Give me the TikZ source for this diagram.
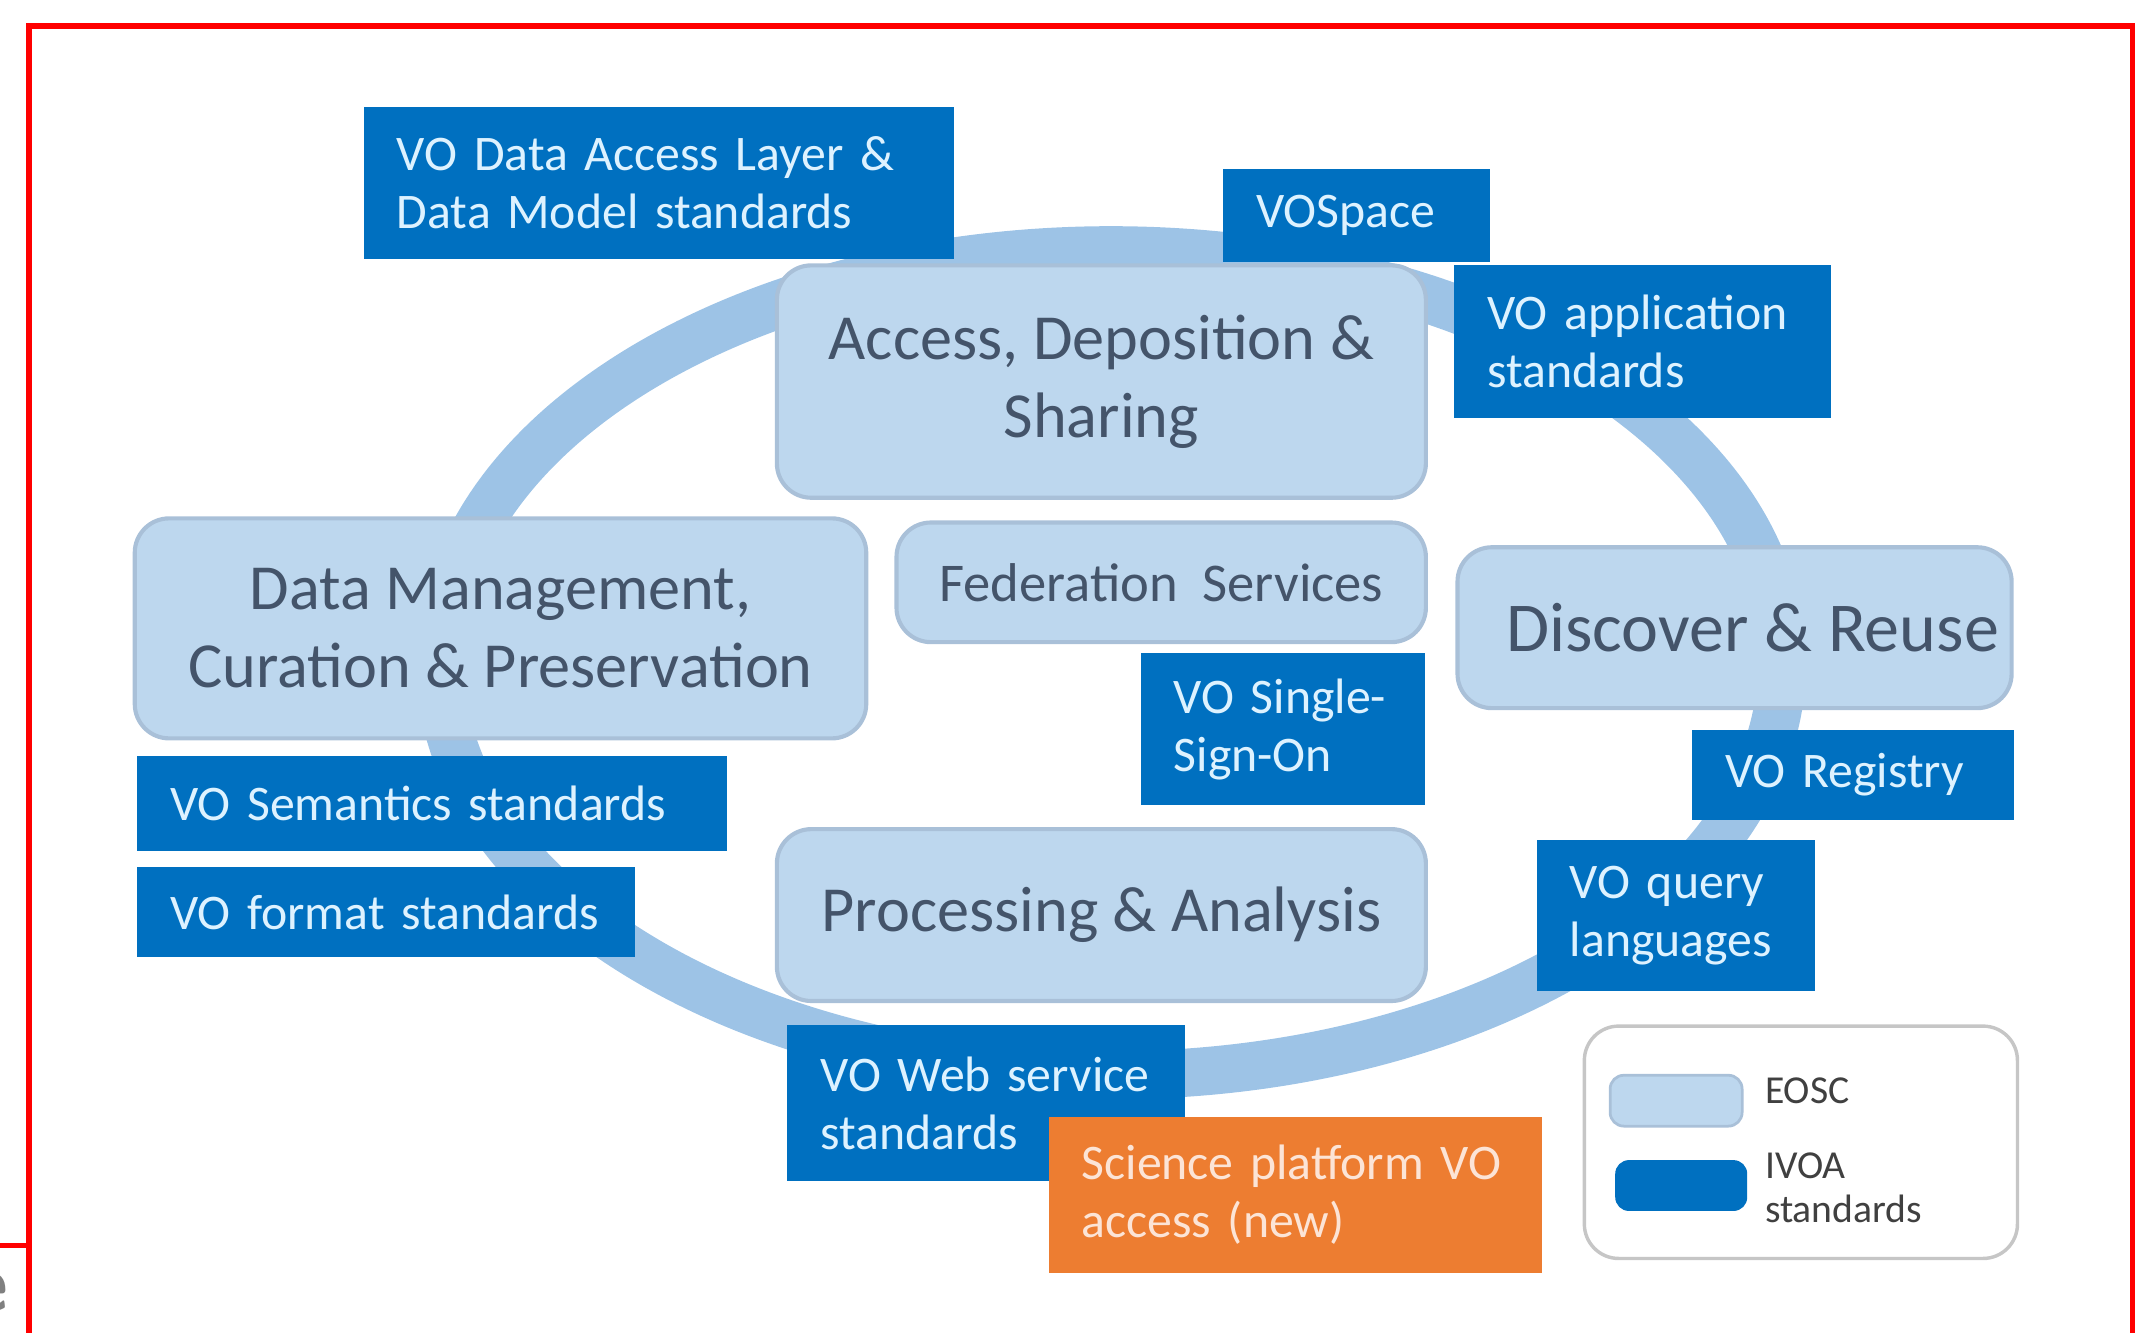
\documentclass[tikz,border=0pt]{standalone}
\usepackage{fontspec}
\setmainfont{Carlito}
\usetikzlibrary{positioning}

\definecolor{eoscfill}{HTML}{BDD7EE}
\definecolor{eoscedge}{HTML}{A9C0D8}
\definecolor{ringblue}{HTML}{9DC3E6}
\definecolor{ivoablue}{HTML}{0070C0}
\definecolor{ivoatext}{HTML}{DDF2FF}
\definecolor{neworange}{HTML}{ED7D31}
\definecolor{newtext}{HTML}{FCE4D6}
\definecolor{eosctext}{HTML}{44546A}
\definecolor{legendtext}{HTML}{404040}

\tikzset{
  eosc/.style={draw=eoscedge, line width=0.3mm, fill=eoscfill, rounded corners=2.5mm,
    text=eosctext, align=center, inner sep=0pt},
  ivoa/.style={fill=ivoablue, text=ivoatext, anchor=north west, align=left,
    inner xsep=2.4mm, inner ysep=0pt, font=\fontsize{10.3}{12}\selectfont},
  newbox/.style={ivoa, fill=neworange, text=newtext},
  swatch/.style={rounded corners=1mm, minimum width=9.6mm, minimum height=3.7mm, inner sep=0pt}
}

\begin{document}
\begin{tikzpicture}[x=0.1mm,y=-0.1mm]
    \useasboundingbox (0,0) rectangle (1568,969);

    %% frame
    \draw[red, line width=0.4mm] (21,985) -- (21,19) -- (1551,19) -- (1551,985);
    \draw[red, line width=0.35mm] (-5,906) -- (21,906);
    \node[anchor=east, inner sep=0pt, text=gray, font=\sffamily\bfseries\fontsize{17}{19}\selectfont] (cut) at (7,940) {e};

    %% ring
    \draw[ringblue, line width=3.5mm] (808,482) ellipse [x radius=488, y radius=300];

    %% EOSC boxes
    \node[eosc, minimum width=47.2mm, minimum height=16.9mm, font=\fontsize{13.3}{16.2}\selectfont] (access) at (801,277.5) {Access, Deposition \&\\Sharing};
    \node[eosc, minimum width=53.2mm, minimum height=16mm, font=\fontsize{13.3}{16.2}\selectfont] (curation) at (364,457) {Data Management,\\Curation \& Preservation};
    \node[eosc, minimum width=38.5mm, minimum height=8.7mm, font=\fontsize{11.3}{13}\selectfont] (federation) at (844.5,423.5) {Federation\ \ Services};
    \node[eosc, minimum width=40.3mm, minimum height=11.7mm, font=\fontsize{14.5}{16.2}\selectfont] (discover) at (1261.5,456.5) {\hspace*{2.6mm}Discover \& Reuse};
    \node[eosc, minimum width=47.2mm, minimum height=12.5mm, font=\fontsize{13.3}{16.2}\selectfont] (processing) at (801,665.5) {Processing \& Analysis};

    %% IVOA standards
    \node[ivoa, text width=38.1mm, minimum height=11.1mm] (dal) at (264,77) {VO Data Access Layer \&\\Data Model standards};
    \node[ivoa, text width=14.6mm, minimum height=6.8mm] (vospace) at (889,122) {\raisebox{-0.3mm}{VOSpace}};
    \node[ivoa, text width=22.6mm, minimum height=11.1mm] (application) at (1057,192) {VO application\\standards};
    \node[ivoa, text width=15.9mm, minimum height=11.1mm] (sso) at (829,474) {VO Single-\\Sign-On};
    \node[ivoa, text width=18.6mm, minimum height=6.6mm] (registry) at (1230,530) {\raisebox{-0.3mm}{VO Registry}};
    \node[ivoa, text width=15.4mm, minimum height=11mm] (query) at (1117,610) {VO query\\languages};
    \node[ivoa, text width=38.1mm, minimum height=6.9mm] (semantics) at (99,549) {VO Semantics standards};
    \node[ivoa, text width=31.4mm, minimum height=6.5mm] (format) at (99,630) {VO format standards};
    \node[ivoa, text width=24.1mm, minimum height=11.3mm] (websvc) at (572,745) {VO Web service\\standards};
    \node[newbox, text width=31.1mm, minimum height=11.3mm] (science) at (762,812) {Science platform VO\\access (new)};

    %% legend
    \node[draw=gray!45, fill=white, line width=0.25mm, rounded corners=2.5mm, minimum width=31.5mm, minimum height=16.9mm, anchor=north west] (legend) at (1151,745) {};
    \node[swatch, fill=eoscfill, draw=eoscedge, line width=0.2mm, anchor=north west] (eoscbox) at (1170,781) {};
    \node[swatch, fill=ivoablue, anchor=north west] (ivoabox) at (1174,843) {};
    \node[anchor=west, inner sep=0pt, text=legendtext, font=\fontsize{8.2}{9.1}\selectfont] (eosclabel) at (1283,793) {EOSC};
    \node[anchor=west, inner sep=0pt, align=left, text=legendtext, font=\fontsize{8.2}{9.1}\selectfont] (ivoalabel) at (1283,864) {IVOA\\standards};
\end{tikzpicture}
\end{document}
